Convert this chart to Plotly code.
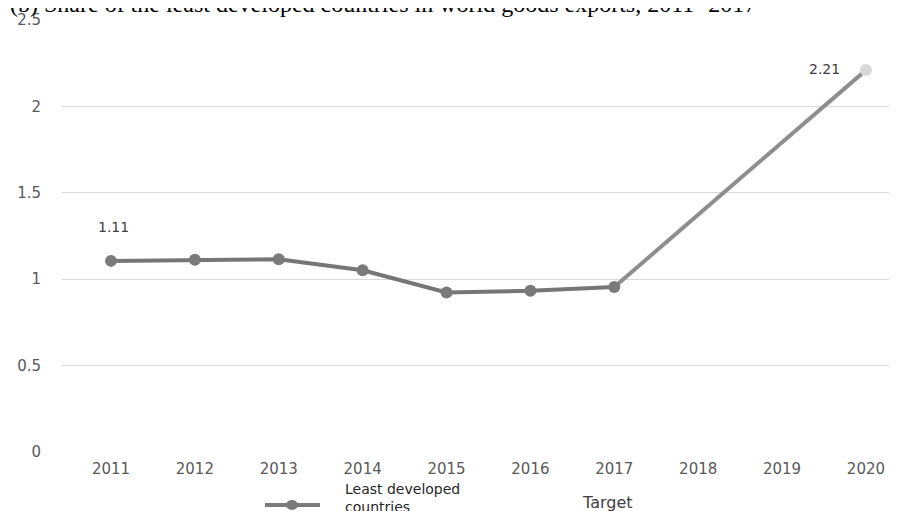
import plotly.graph_objects as go

years = [2011, 2012, 2013, 2014, 2015, 2016, 2017]
ldc_share = [1.106, 1.112, 1.115, 1.052, 0.923, 0.933, 0.955]
target_years = [2017, 2020]
target_share = [0.955, 2.21]
tick_years = [2011, 2012, 2013, 2014, 2015, 2016, 2017, 2018, 2019, 2020]
y_ticks = [0, 0.5, 1, 1.5, 2, 2.5]
y_tick_text = ["0", "0.5", "1", "1.5", "2", "2.5"]

FONT = "DejaVu Sans"

fig = go.Figure()
fig.add_trace(go.Scatter(
    x=target_years, y=target_share, mode="lines",
    line=dict(color="#8e8e8e", width=4), showlegend=False, hoverinfo="skip",
    name="Target"))
fig.add_trace(go.Scatter(
    x=target_years[-1:], y=target_share[-1:], mode="markers",
    marker=dict(color="#d9d9d9", size=12), showlegend=False, name="Target"))
fig.add_trace(go.Scatter(
    x=years, y=ldc_share, mode="lines+markers",
    line=dict(color="#767676", width=4),
    marker=dict(color="#7a7a7a", size=12),
    name="Least developed countries", showlegend=False))

# data labels
fig.add_annotation(x=years[0], y=ldc_share[0], text="1.11", showarrow=False,
                   yshift=34, xshift=3, font=dict(family=FONT, size=14, color="#404040"))
fig.add_annotation(x=target_years[-1], y=target_share[-1], text="2.21", showarrow=False,
                   xanchor="right", xshift=-24, yshift=1,
                   font=dict(family=FONT, size=14, color="#404040"))

# title (partly cut at top as in the reference)
fig.add_annotation(xref="paper", yref="paper", x=-0.0647, y=1.0, xanchor="left", yanchor="bottom",
                   yshift=1,
                   text="(b) Share of the least developed countries in world goods exports, 2011- 2017",
                   showarrow=False, font=dict(family="Liberation Serif", size=24, color="#000000"))

# legend drawn manually
fig.add_shape(type="line", xref="paper", yref="paper", x0=0.2431, x1=0.309,
              y0=-0.1227, y1=-0.1227, line=dict(color="#7a7a7a", width=4))
fig.add_shape(type="circle", xref="paper", yref="paper", x0=0.2682, x1=0.2826,
              y0=-0.1111, y1=-0.1343, fillcolor="#7a7a7a", line=dict(width=0))
fig.add_annotation(xref="paper", yref="paper", x=0.3365, y=-0.1076, xanchor="left", yanchor="middle",
                   text="Least developed<br>countries", align="left", showarrow=False,
                   font=dict(family=FONT, size=14, color="#262626"))
fig.add_annotation(xref="paper", yref="paper", x=0.62, y=-0.118, xanchor="left", yanchor="middle",
                   text="Target", showarrow=False,
                   font=dict(family=FONT, size=16, color="#404040"))

fig.update_layout(
    width=889, height=503,
    margin=dict(l=54, r=0, t=12, b=59, autoexpand=False),
    plot_bgcolor="white", paper_bgcolor="white",
    showlegend=False,
    xaxis=dict(range=[2010.416, 2020.37], tickmode="array", tickvals=tick_years,
               ticktext=[str(t) for t in tick_years], showgrid=False, zeroline=False,
               showline=False, ticks="", ticklabelstandoff=6,
               tickfont=dict(family=FONT, size=15, color="#595959")),
    yaxis=dict(range=[0, 2.5], tickmode="array", tickvals=y_ticks, ticktext=y_tick_text,
               showgrid=True, gridcolor="#d9d9d9", gridwidth=1, zeroline=False,
               showline=False, ticks="", ticklabelstandoff=20,
               tickfont=dict(family=FONT, size=15, color="#595959")),
)

fig.write_html("out.html")
